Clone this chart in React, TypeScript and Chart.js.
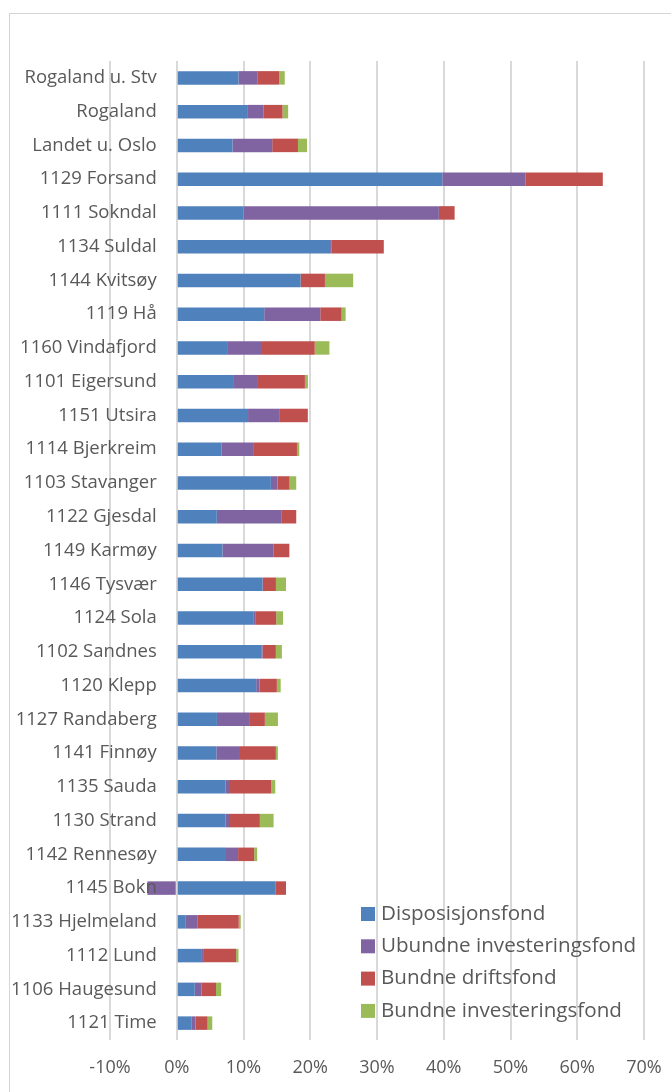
import React, { useEffect, useRef } from "react";
import { Chart, registerables } from "chart.js";

Chart.register(...registerables);

const categories = [
  "Rogaland u. Stv", "Rogaland", "Landet u. Oslo", "1129 Forsand", "1111 Sokndal",
  "1134 Suldal", "1144 Kvitsøy", "1119 Hå", "1160 Vindafjord", "1101 Eigersund",
  "1151 Utsira", "1114 Bjerkreim", "1103 Stavanger", "1122 Gjesdal", "1149 Karmøy",
  "1146 Tysvær", "1124 Sola", "1102 Sandnes", "1120 Klepp", "1127 Randaberg",
  "1141 Finnøy", "1135 Sauda", "1130 Strand", "1142 Rennesøy", "1145 Bokn",
  "1133 Hjelmeland", "1112 Lund", "1106 Haugesund", "1121 Time",
];

const disposisjonsfond = [
  9.24, 10.66, 8.34, 39.78, 10.0, 22.97, 18.55, 13.1, 7.67, 8.57,
  10.68, 6.68, 14.1, 6.0, 6.84, 12.86, 11.55, 12.65, 11.9, 6.02,
  5.93, 7.28, 7.28, 7.38, 14.76, 1.36, 3.77, 2.7, 2.25,
];
const ubundneInvesteringsfond = [
  2.9, 2.37, 5.96, 12.5, 29.27, 0.25, 0, 8.4, 5.1, 3.46,
  4.66, 4.76, 1.0, 9.74, 7.62, 0, 0.2, 0.2, 0.5, 4.82,
  3.4, 0.55, 0.55, 1.81, -4.4, 1.71, 0.3, 0.98, 0.57,
];
const bundneDriftsfond = [
  3.2, 2.82, 3.86, 11.55, 2.36, 7.8, 3.65, 3.2, 7.9, 7.17,
  4.3, 6.57, 1.8, 2.16, 2.41, 2.0, 3.15, 2.0, 2.6, 2.36,
  5.52, 6.33, 4.62, 2.41, 1.61, 6.22, 4.82, 2.2, 1.8,
];
const bundneInvesteringsfond = [
  0.84, 0.84, 1.35, 0, 0, 0, 4.23, 0.6, 2.2, 0.45,
  0, 0.35, 1.0, 0, 0, 1.51, 1.02, 0.9, 0.57, 1.96,
  0.3, 0.6, 2.06, 0.45, 0, 0.3, 0.36, 0.78, 0.7,
];

const seriesLabels = [
  "Disposisjonsfond",
  "Ubundne investeringsfond",
  "Bundne driftsfond",
  "Bundne investeringsfond",
];
const seriesColors = ["#4F81BD", "#8064A2", "#C0504D", "#9BBB59"];

const xMin = -10;
const xMax = 70;
const xStep = 10;

const FONT = "'Open Sans', sans-serif";
const TEXT = "#595959";

const labelPlugin = {
  id: "catLabels",
  afterDatasetsDraw(chart: any) {
    const { ctx, scales } = chart;
    const x0 = scales.x.getPixelForValue(0);
    ctx.save();
    ctx.font = `18.5px ${FONT}`;
    ctx.fillStyle = TEXT;
    ctx.textAlign = "right";
    ctx.textBaseline = "middle";
    chart.data.labels.forEach((lab: string, i: number) => {
      ctx.fillText(lab, x0 - 20, scales.y.getPixelForValue(i));
    });
    ctx.restore();
  },
};

const legendPlugin = {
  id: "boxLegend",
  afterDraw(chart: any) {
    const { ctx } = chart;
    ctx.save();
    ctx.font = `20.6px ${FONT}`;
    ctx.textAlign = "left";
    ctx.textBaseline = "middle";
    chart.data.datasets.forEach((ds: any, i: number) => {
      const cy = 914 + i * 32.3;
      ctx.fillStyle = ds.backgroundColor;
      ctx.fillRect(361, cy - 7, 14, 14);
      ctx.fillStyle = TEXT;
      ctx.fillText(ds.label, 381, cy);
    });
    ctx.restore();
  },
};

export default function App() {
  const ref = useRef<HTMLCanvasElement>(null);
  useEffect(() => {
    if (!ref.current) return;
    const values = [disposisjonsfond, ubundneInvesteringsfond, bundneDriftsfond, bundneInvesteringsfond];
    const chart = new Chart(ref.current, {
      type: "bar",
      data: {
        labels: categories,
        datasets: values.map((v, i) => ({
          label: seriesLabels[i],
          data: v,
          backgroundColor: seriesColors[i],
          borderWidth: 0,
          barPercentage: 0.4,
          categoryPercentage: 1.0,
        })),
      },
      options: {
        indexAxis: "y",
        animation: false,
        responsive: false,
        maintainAspectRatio: false,
        layout: { autoPadding: false, padding: { left: 110, right: 27, top: 61, bottom: 0 } },
        plugins: { legend: { display: false }, tooltip: { enabled: false } },
        scales: {
          y: {
            stacked: true,
            display: false,
          },
          x: {
            stacked: true,
            min: xMin,
            max: xMax,
            afterFit: (s: any) => {
              s.height = 52;
              s.paddingLeft = 0;
              s.paddingRight = 0;
            },
            border: { display: false },
            grid: { color: "#d9d9d9", lineWidth: 2, drawTicks: false },
            ticks: {
              stepSize: xStep,
              padding: 17,
              color: TEXT,
              font: { family: FONT, size: 18 },
              callback: (v: any) => `${v}%`,
            },
          },
        },
      },
      plugins: [labelPlugin, legendPlugin],
    });
    return () => chart.destroy();
  }, []);
  return (
    <div style={{ position: "fixed", left: 0, top: 0, width: 671, height: 1092, background: "#fff", overflow: "hidden" }}>
      <div style={{ position: "absolute", left: 9, top: 13, width: 700, height: 1100, border: "1px solid #d4d4d4" }} />
      <canvas ref={ref} width={671} height={1092} style={{ position: "absolute", left: 0, top: 0, width: 671, height: 1092 }} />
    </div>
  );
}
